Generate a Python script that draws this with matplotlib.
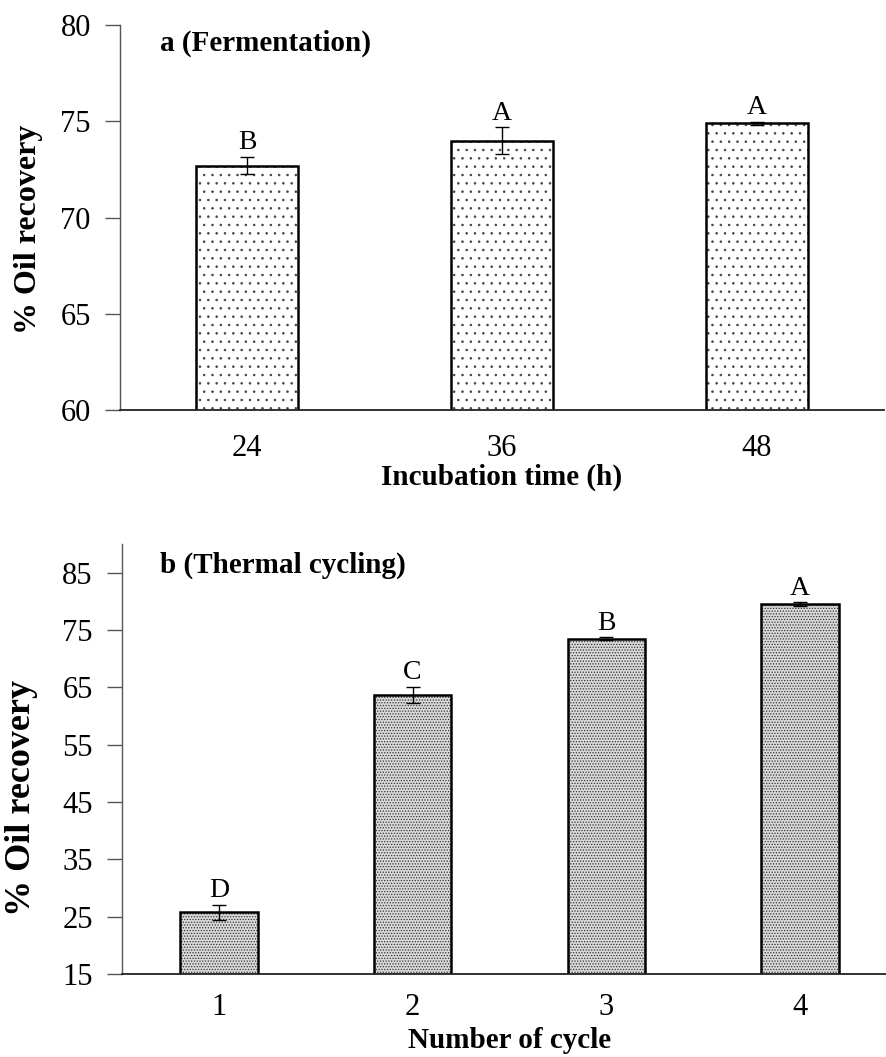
import matplotlib
matplotlib.use("Agg")
import matplotlib.pyplot as plt
import numpy as np

plt.rcParams['font.family'] = ['Liberation Serif', 'DejaVu Serif']
plt.rcParams['hatch.linewidth'] = 0.6

# Panel a: fermentation
incubation = ["24", "36", "48"]
recovery_a = [72.7, 74.0, 74.9]
error_a = [0.45, 0.7, 0.08]
letters_a = ["B", "A", "A"]

# Panel b: thermal cycling
cycles = ["1", "2", "3", "4"]
recovery_b = [25.8, 63.7, 73.5, 79.5]
error_b = [1.3, 1.4, 0.2, 0.3]
letters_b = ["D", "C", "B", "A"]

fig = plt.figure(figsize=(8.86, 10.57), dpi=100)

W, H = 886.0, 1057.0


def make_axes(left, right, top, bottom):
    return fig.add_axes([left / W, 1 - bottom / H, (right - left) / W, (bottom - top) / H])


def style(ax, xpad):
    for s in ("top", "right"):
        ax.spines[s].set_visible(False)
    ax.spines["left"].set_color("#555555")
    ax.spines["left"].set_linewidth(1.0)
    ax.spines["bottom"].set_color("#222222")
    ax.spines["bottom"].set_linewidth(1.3)
    ax.tick_params(axis="y", direction="out", length=11, width=1.0, color="#555555",
                   labelsize=22, pad=10)
    ax.tick_params(axis="x", length=0, labelsize=22, pad=xpad)


def draw(ax, cats, vals, errs, letters, hatch, face, hatch_col, offset):
    x = np.arange(len(cats))
    # dotted fill, then a solid black outline on top
    ax.bar(x, vals, width=0.4, color=face, edgecolor=hatch_col,
           linewidth=0, hatch=hatch, zorder=2)
    ax.bar(x, vals, width=0.4, color="none", edgecolor="black",
           linewidth=1.8, zorder=2.5)
    ax.errorbar(x, vals, yerr=errs, fmt="none", ecolor="black", elinewidth=1.0,
                capsize=5, capthick=1.0, zorder=3)
    for xi, v, e, t in zip(x, vals, errs, letters):
        ax.annotate(t, (xi, v + e), xytext=(0, offset), textcoords="offset points",
                    ha="center", va="bottom", fontsize=20)
    ax.set_xticks(x)
    ax.set_xticklabels(cats)
    ax.set_xlim(-0.5, len(cats) - 0.5)


# Panel a
ax1 = make_axes(120, 884, 25, 410)
style(ax1, 17)
draw(ax1, incubation, recovery_a, error_a, letters_a, "..", "white", "#444444", 1)
ax1.set_ylim(60, 80)
ax1.set_yticks([60, 65, 70, 75, 80])
ax1.set_ylabel("% Oil recovery", fontsize=23, fontweight="bold")
ax1.yaxis.set_label_coords(-0.101, 0.47)
ax1.set_xlabel("Incubation time (h)", fontsize=21, fontweight="bold", labelpad=1)
ax1.text(160 / W, 1 - 43 / H, "a (Fermentation)", transform=fig.transFigure,
         fontsize=21, fontweight="bold", va="center", ha="left")

# Panel b
ax2 = make_axes(122, 897, 544, 974)
style(ax2, 14)
draw(ax2, cycles, recovery_b, error_b, letters_b, "......", "#d9d9d9", "#333333", 1)
ax2.set_ylim(15, 90)
ax2.set_yticks(np.arange(15, 86, 10))
ax2.set_ylabel("% Oil recovery", fontsize=26, fontweight="bold")
ax2.yaxis.set_label_coords(-0.108, 0.41)
ax2.set_xlabel("Number of cycle", fontsize=21, fontweight="bold", labelpad=3)
ax2.text(160 / W, 1 - 565 / H, "b (Thermal cycling)", transform=fig.transFigure,
         fontsize=21, fontweight="bold", va="center", ha="left")

fig.savefig("out.png", dpi=100)
